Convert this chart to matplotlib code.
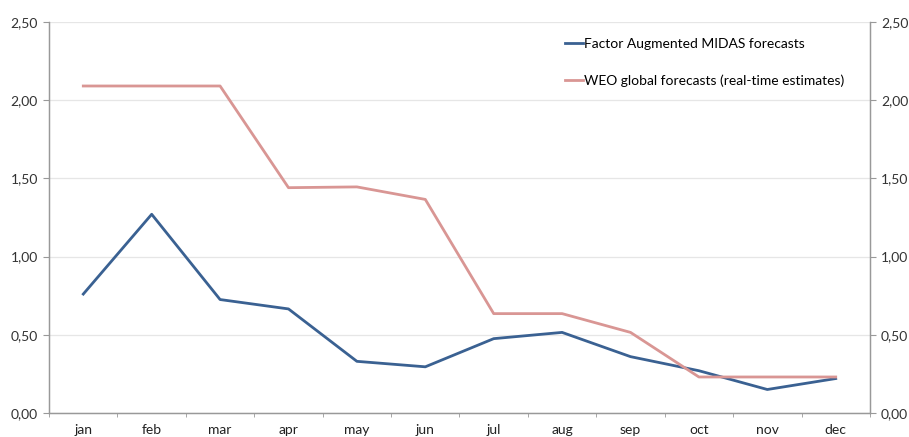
import matplotlib.pyplot as plt
import numpy as np

months = ['jan', 'feb', 'mar', 'apr', 'may', 'jun', 'jul', 'aug', 'sep', 'oct', 'nov', 'dec']
midas = [0.76, 1.27, 0.725, 0.665, 0.33, 0.295, 0.475, 0.515, 0.36, 0.27, 0.15, 0.22]
weo = [2.09, 2.09, 2.09, 1.44, 1.445, 1.365, 0.635, 0.635, 0.515, 0.23, 0.23, 0.23]
yticks = [0.0, 0.5, 1.0, 1.5, 2.0, 2.5]

plt.rcParams['font.family'] = ['Lato', 'DejaVu Sans']

fig = plt.figure(figsize=(9.09, 4.37), dpi=100)
ax = fig.add_axes([0.054, 0.055, 0.903, 0.895])
x = np.arange(len(months))

ax.plot(x, midas, color='#3A6192', lw=2.0, label='Factor Augmented MIDAS forecasts')
ax.plot(x, weo, color='#D99694', lw=2.0, label='WEO global forecasts (real-time estimates)')

ax.set_xlim(-0.5, len(months) - 0.5)
ax.set_ylim(0, 2.5)
ax.set_yticks(yticks)
ax.set_yticklabels(['{:.2f}'.format(v).replace('.', ',') for v in yticks], fontsize=10, color='#333333')
ax.grid(axis='y', color='#E6E6E6', lw=0.9)
ax.set_axisbelow(True)

ax.set_xticks(x)
ax.set_xticklabels(months, fontsize=10, color='#222222')
ax.set_xticks(np.arange(-0.5, len(months)), minor=True)
ax.tick_params(axis='x', which='major', length=0, pad=8)
ax.tick_params(axis='x', which='minor', length=3, color='#999999')
ax.tick_params(axis='y', length=4, color='#999999', pad=4)

ax2 = ax.twinx()
ax2.set_ylim(0, 2.5)
ax2.set_yticks(yticks)
ax2.set_yticklabels(['{:.2f}'.format(v).replace('.', ',') for v in yticks], fontsize=10, color='#333333')
ax2.tick_params(axis='y', length=4, color='#999999', pad=4)

for a in (ax, ax2):
    a.spines['top'].set_visible(False)
    for s in ('left', 'right', 'bottom'):
        a.spines[s].set_color('#999999')
        a.spines[s].set_linewidth(0.9)

ax.legend(loc='upper left', bbox_to_anchor=(0.613, 0.99), frameon=False, fontsize=10,
          handlelength=1.3, handletextpad=0.1, labelspacing=1.75)

fig.savefig('out.png', dpi=100)
